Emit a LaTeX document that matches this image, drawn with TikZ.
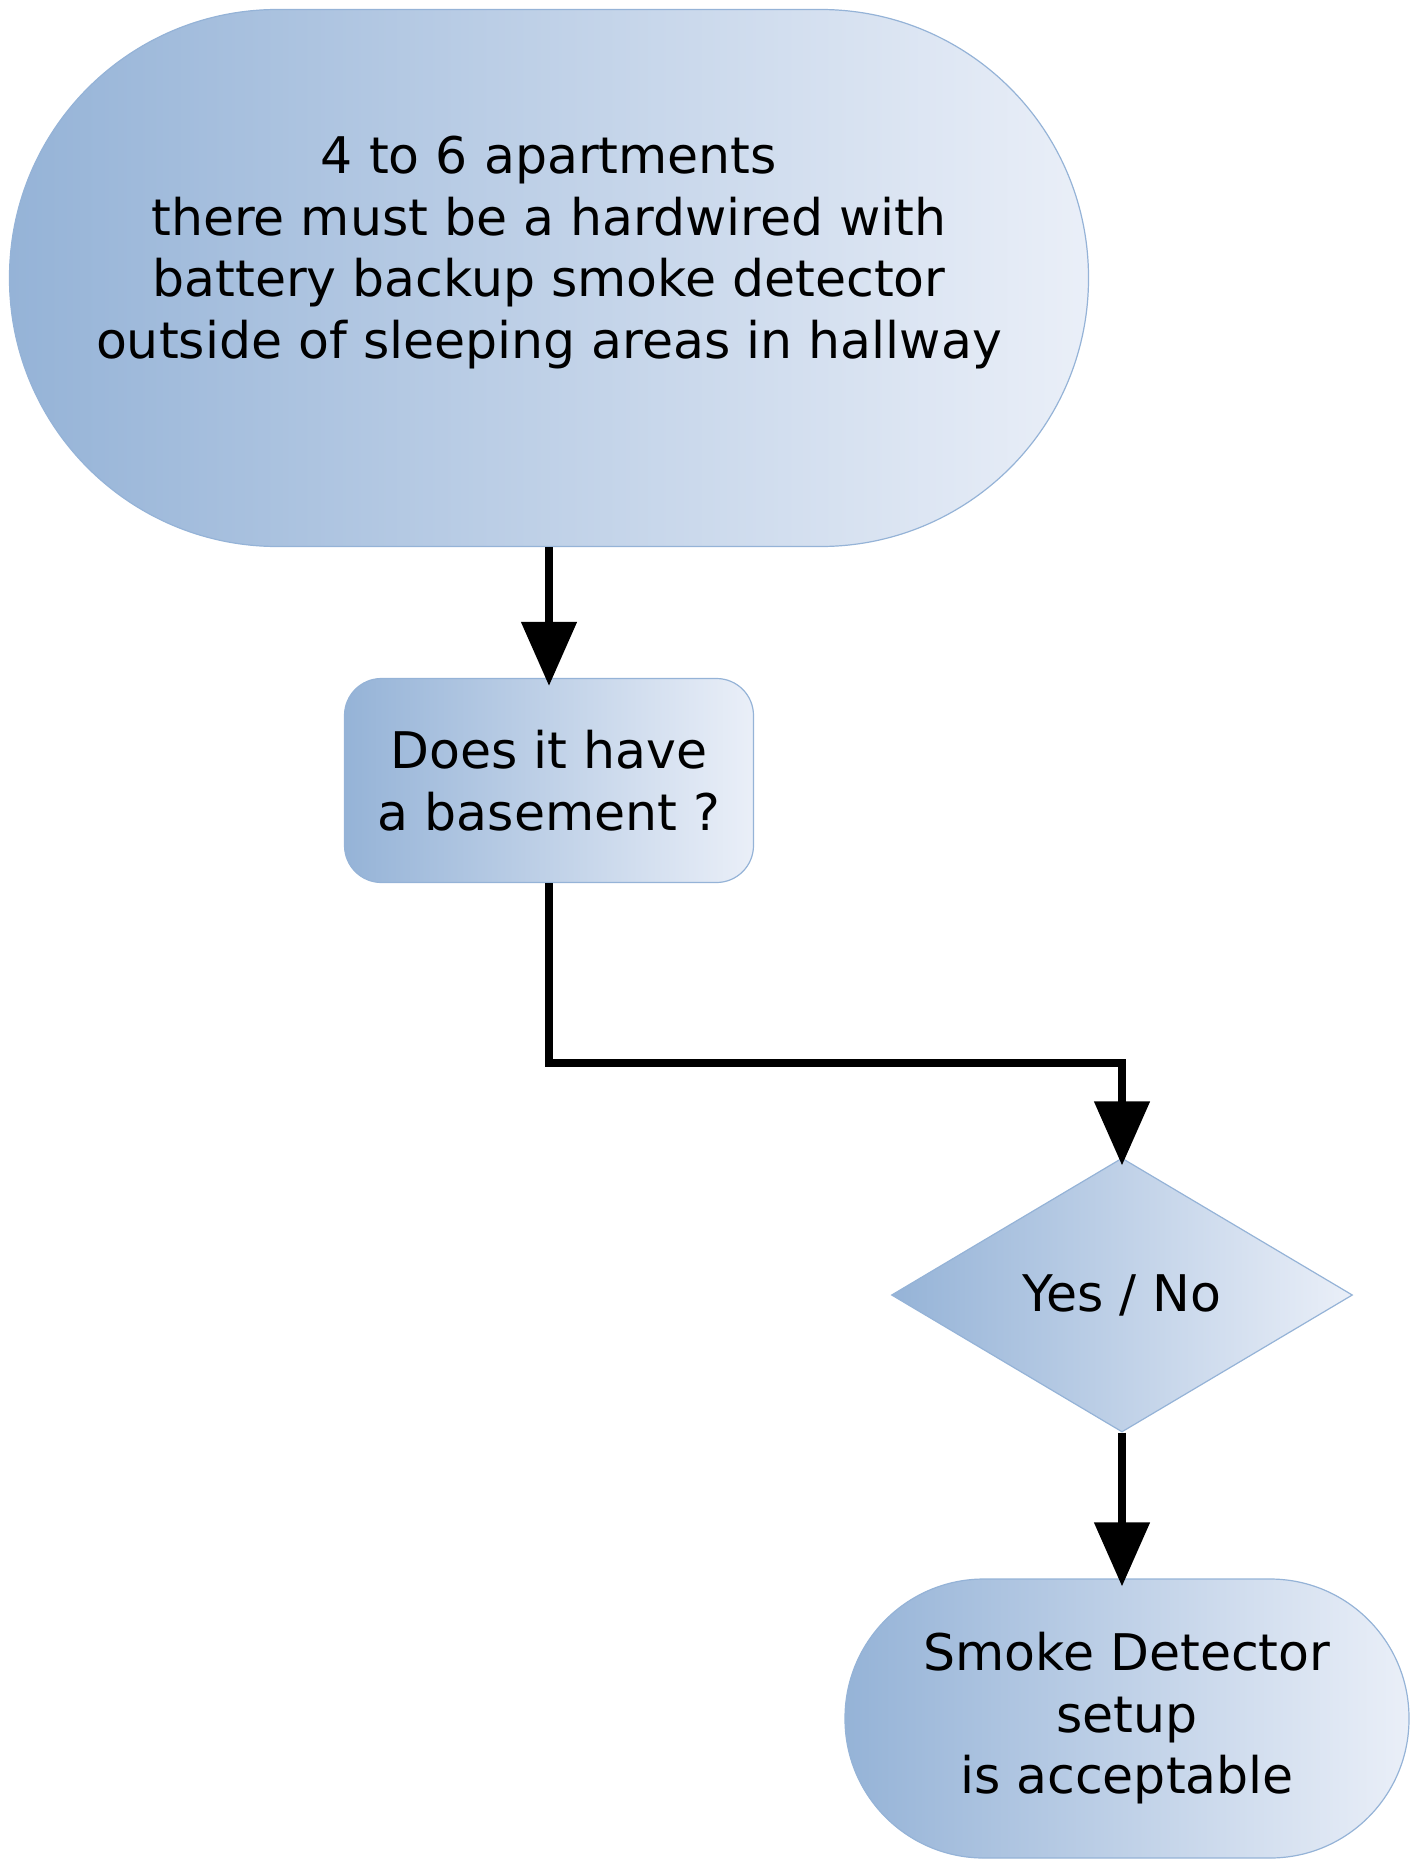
\documentclass[tikz,border=0pt]{standalone}
\usepackage{fontspec}
\setmainfont{DejaVu Sans}
\usetikzlibrary{shapes.geometric,arrows.meta}
\definecolor{gl}{HTML}{95B3D7}
\definecolor{gr}{HTML}{EAEFF8}
\tikzset{
  shp/.style={draw=gl, line width=1.2pt, left color=gl, right color=gr, inner sep=0pt,
    align=center, font=\fontsize{50.5}{61.5}\selectfont, text=black},
  arr/.style={line width=8pt, -{Triangle[width=54pt,length=64pt]}, shorten >=-8pt},
}
\begin{document}
\begin{tikzpicture}[x=1pt,y=-1pt]
\useasboundingbox (0,0) rectangle (1424,1860);
\node[shp, rectangle, rounded corners=268pt, minimum width=1079pt, minimum height=537pt] (top) at (549,278)
  {4 to 6 apartments\\there must be a hardwired with\\battery backup smoke detector\\outside of sleeping areas in hallway\\ \mbox{}};
\node[shp, rectangle, rounded corners=37pt, minimum width=409pt, minimum height=204pt] (box) at (549,780.5)
  {Does it have\\a basement ?};
\node[shp, diamond, minimum width=461pt, minimum height=274pt] (yn) at (1122,1295) {Yes / No};
\node[shp, rectangle, rounded corners=139pt, minimum width=564pt, minimum height=279pt] (end) at (1127,1718.5)
  {Smoke Detector\\setup\\is acceptable};
\coordinate (mid) at (835,1063);
\draw[arr] (top.south) -- (box.north);
\draw[arr] (box.south) |- (mid) -| (yn.north);
\draw[arr] (yn.south) -- (yn.south |- end.north);
\end{tikzpicture}
\end{document}
